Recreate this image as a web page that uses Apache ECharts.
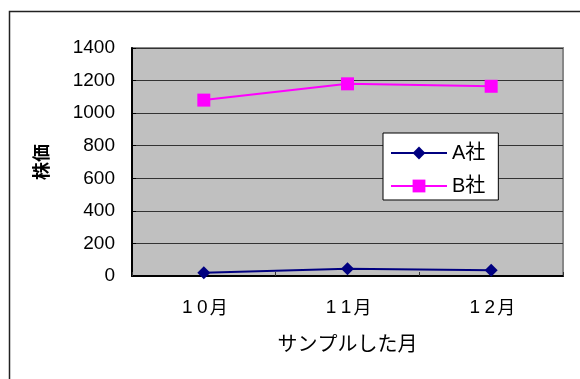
<!DOCTYPE html>
<html>
<head>
<meta charset="utf-8">
<script src="https://cdn.jsdelivr.net/npm/echarts@6/dist/echarts.min.js"></script>
<style>
  html, body { margin: 0; padding: 0; background: #fff; }
  #chart { width: 580px; height: 379px; }
</style>
</head>
<body>
<div id="chart"></div>
<script>
// Monthly share prices of two companies
const months = ['10月', '11月', '12月'];
const seriesNames = ['A社', 'B社'];
const priceA = [20, 45, 35];
const priceB = [1080, 1180, 1165];
const yTicks = [0, 200, 400, 600, 800, 1000, 1200, 1400];

const FONT = "'Liberation Sans', 'Noto Sans CJK JP', sans-serif";
const CJK = "'Noto Sans CJK JP', sans-serif";

// Month labels: each digit sits in a fixed-width cell, like a monospaced Gothic face
function monthLabel(text) {
  return text.split('').map(ch => (/[0-9]/.test(ch) ? '{d|' + ch + '}' : '{m|' + ch + '}')).join('');
}

const chart = echarts.init(document.getElementById('chart'), null, { renderer: 'canvas' });

chart.setOption({
  animation: false,
  backgroundColor: '#ffffff',
  textStyle: { fontFamily: FONT, color: '#000' },
  graphic: [{
    type: 'rect',
    shape: { x: 9.5, y: 11.5, width: 600, height: 400 },
    style: { fill: 'none', stroke: '#222', lineWidth: 1.5 },
    z: 0
  }],
  grid: {
    left: 132, top: 48, right: 17, bottom: 103,
    show: true,
    backgroundColor: '#c0c0c0',
    borderColor: '#888888',
    borderWidth: 2
  },
  legend: {
    orient: 'vertical',
    left: 383, top: 133,
    data: seriesNames,
    backgroundColor: '#ffffff',
    borderColor: '#000',
    borderWidth: 1,
    padding: [10, 13, 4, 7],
    itemWidth: 56,
    itemHeight: 16,
    itemGap: 13,
    textStyle: { fontSize: 20, fontFamily: FONT, color: '#000' },
    z: 10
  },
  xAxis: {
    type: 'category',
    data: months,
    boundaryGap: true,
    name: 'サンプルした月',
    nameLocation: 'middle',
    nameGap: 57,
    nameTextStyle: { fontSize: 20, fontFamily: CJK, color: '#000' },
    axisLine: { show: true, lineStyle: { color: '#000', width: 2 } },
    axisTick: { show: true, inside: true, length: 4, lineStyle: { color: '#333' } },
    axisLabel: {
      margin: 22,
      formatter: monthLabel,
      rich: {
        d: { fontSize: 19, fontFamily: "'Liberation Sans', sans-serif", color: '#000', width: 15, align: 'center' },
        m: { fontSize: 18, fontFamily: CJK, color: '#000' }
      }
    },
    splitLine: { show: false }
  },
  yAxis: {
    type: 'value',
    min: 0, max: 1400, interval: 200,
    name: '株価',
    nameLocation: 'middle',
    nameGap: 82,
    nameTextStyle: { fontSize: 18, fontFamily: CJK, color: '#000', fontWeight: 'bold' },
    axisLine: { show: true, lineStyle: { color: '#000', width: 2 } },
    axisTick: { show: true, inside: true, length: 4, lineStyle: { color: '#000' } },
    axisLabel: {
      fontSize: 19, color: '#000', margin: 17, fontFamily: FONT,
      formatter: v => (yTicks.indexOf(v) >= 0 ? String(v) : '')
    },
    splitLine: { show: true, lineStyle: { color: '#333', width: 1 } }
  },
  series: [
    {
      name: seriesNames[0],
      type: 'line',
      data: priceA,
      symbol: 'diamond',
      symbolSize: 13,
      color: '#000080',
      lineStyle: { color: '#000080', width: 2 },
      itemStyle: { color: '#000080' },
      z: 3
    },
    {
      name: seriesNames[1],
      type: 'line',
      data: priceB,
      symbol: 'rect',
      symbolSize: 13,
      color: '#ff00ff',
      lineStyle: { color: '#ff00ff', width: 2 },
      itemStyle: { color: '#ff00ff' },
      z: 3
    }
  ]
});
</script>
</body>
</html>
